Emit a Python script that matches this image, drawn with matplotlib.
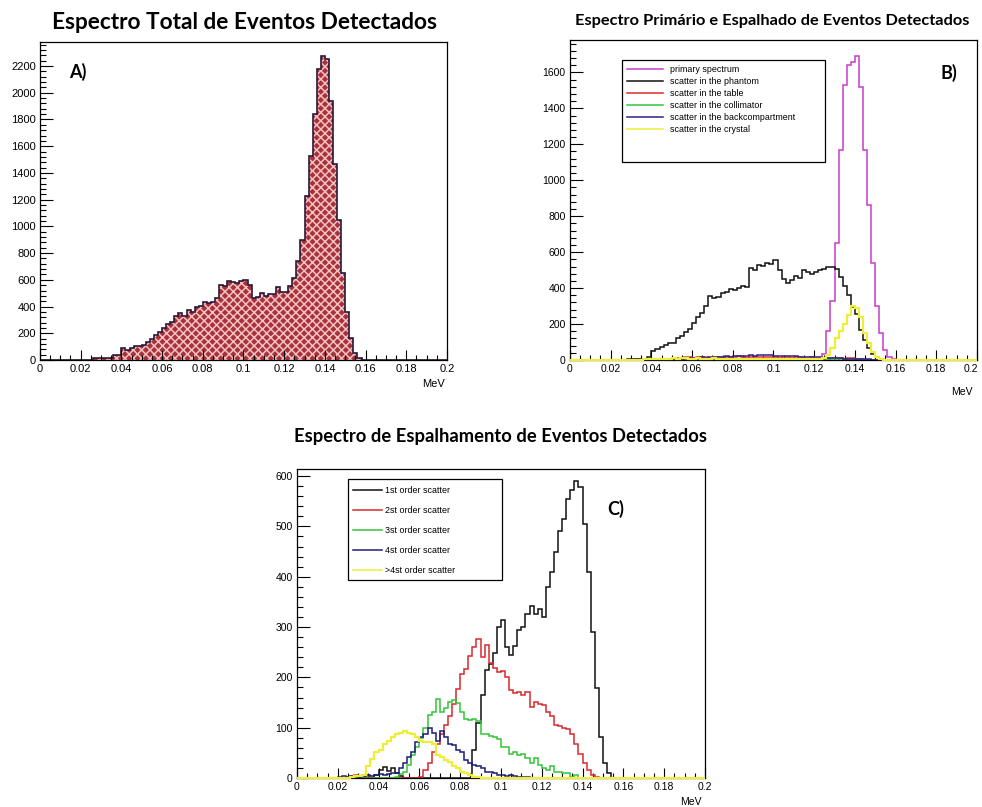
import numpy as np
import matplotlib.pyplot as plt
from matplotlib.patches import Rectangle
from matplotlib.ticker import MultipleLocator
from matplotlib.transforms import ScaledTranslation

plt.rcParams['font.family'] = ['Liberation Sans', 'DejaVu Sans']
plt.rcParams['hatch.linewidth'] = 1.1

# --- data: 100 energy bins of 2 keV between 0 and 0.2 MeV ---
N_BINS = 100
E_RANGE = (0.0, 0.2)


def pad(start, vals):
    return np.array([0] * start + list(vals) + [0] * (N_BINS - start - len(vals)), dtype=float)


# A) total spectrum (first non-empty bin = 13)
total_counts = pad(13, [12, 14, 14, 13, 15, 40, 40, 88, 75, 92, 105, 105, 110, 137, 155, 187, 207,
                        242, 270, 282, 332, 350, 330, 375, 360, 395, 405, 437, 425, 435, 467, 560,
                        555, 592, 587, 575, 592, 600, 560, 467, 475, 505, 482, 492, 492, 545, 510,
                        510, 555, 617, 740, 900, 1230, 1525, 1840, 2180, 2275, 2250, 1940, 1465,
                        1050, 650, 362, 162, 50, 12])

# B) primary and scattered components
primary = pad(60, [3, 8, 35, 160, 330, 650, 1170, 1530, 1640, 1660, 1690, 1520, 1170, 860, 540,
                   300, 150, 55, 15, 3])
phantom = pad(14, [3, 4, 5, 4, 6, 18, 52, 61, 70, 84, 93, 97, 121, 134, 158, 175, 204, 242, 260,
                   301, 357, 344, 353, 372, 381, 395, 388, 403, 409, 405, 511, 498, 530, 524, 539,
                   535, 557, 502, 450, 427, 446, 465, 455, 498, 487, 480, 490, 498, 507, 520, 517,
                   505, 462, 413, 360, 295, 255, 165, 110, 65, 35, 15, 6, 2])
table = pad(24, [6, 9, 12, 10, 14, 16, 12, 15, 18, 14, 11, 16, 19, 17, 14, 15, 18, 20, 16, 13, 15,
                 19, 17, 14, 16, 18, 15, 13, 17, 15, 12, 14, 16, 13, 11, 14, 12, 10, 13, 11, 9, 12,
                 10, 8, 11, 9, 6, 4, 2])
collimator = pad(20, [1, 2, 2, 3, 2, 3, 3, 4, 3, 4, 5, 4, 5, 4, 5, 5, 4, 5, 6, 5, 4, 5, 6, 5, 4, 5,
                      4, 5, 4, 4, 5, 4, 3, 4, 4, 3, 4, 3, 3, 4, 3, 3, 2, 3, 2, 3, 2, 2, 1, 2, 1, 1, 1])
backcomp = pad(15, [2, 3, 2, 4, 3, 5, 4, 6, 5, 7, 6, 8, 7, 9, 10, 11, 12, 14, 13, 16, 15, 18, 17, 20,
                    19, 22, 21, 24, 23, 26, 25, 28, 27, 26, 28, 25, 24, 22, 23, 20, 21, 18, 19, 17,
                    16, 15, 14, 12, 13, 11, 10, 9, 8, 7, 6, 5, 4, 3, 3, 2, 1])
crystal = pad(18, [3, 4, 5, 6, 7, 8, 7, 9, 8, 10, 9, 8, 7, 9, 8, 7, 8, 9, 7, 6, 8, 7, 6, 7, 6, 5, 7,
                   6, 5, 6, 5, 6, 5, 4, 6, 5, 4, 5, 6, 5, 4, 5, 6, 8, 12, 28, 65, 120, 160, 200,
                   250, 300, 290, 240, 150, 93, 46, 18, 5])

# C) scatter order
order1 = pad(19, [6, 15, 22, 14, 20, 10, 5] + [0] * 16 +
             [0, 55, 110, 165, 215, 226, 248, 300, 314, 261, 245, 263, 295, 300, 326, 342, 326,
              335, 320, 380, 410, 450, 490, 515, 555, 572, 590, 578, 505, 410, 290, 178, 82, 30, 10])
order2 = pad(12, [3, 5, 6, 4, 5, 3] + [0] * 12 +
             [3, 16, 29, 52, 68, 87, 106, 123, 148, 177, 206, 216, 242, 261, 277, 240, 265, 228,
              219, 210, 213, 200, 174, 168, 171, 165, 171, 142, 151, 148, 145, 132, 123, 106, 103,
              100, 97, 87, 67, 48, 29, 16, 6, 3])
order3 = pad(24, [3, 8, 12, 25, 45, 62, 80, 100, 125, 132, 158, 132, 139, 152, 155, 150, 132, 118,
                  115, 117, 114, 88, 87, 84, 81, 77, 61, 61, 48, 51, 45, 48, 39, 29, 39, 26, 19, 16,
                  23, 12, 12, 10, 10, 3, 6])
order4 = pad(10, [2, 4, 3, 5, 4, 3, 5, 6, 5, 6, 8, 6, 8, 9,
                  10, 19, 29, 42, 52, 71, 81, 87, 100, 90, 74, 94, 81, 68, 65, 55, 52, 35, 29, 26,
                  23, 19, 12, 11, 10, 6, 7, 4, 6, 4, 3, 3, 2, 1, 1, 1, 1])
order5 = pad(13, [3, 5, 4, 6, 23, 38, 52, 55, 68, 74, 81, 87, 90, 94, 90, 87, 81, 74, 71, 71, 68,
                  45, 42, 35, 32, 23, 19, 12, 10, 6, 3, 2])

X_TICKS = [0, 0.02, 0.04, 0.06, 0.08, 0.1, 0.12, 0.14, 0.16, 0.18, 0.2]
X_TICK_LABELS = ['0', '0.02', '0.04', '0.06', '0.08', '0.1', '0.12', '0.14', '0.16', '0.18', '0.2']

B_LABELS = ['primary spectrum', 'scatter in the phantom', 'scatter in the table',
            'scatter in the collimator', 'scatter in the backcompartment', 'scatter in the crystal']
B_COLORS = ['#c83cc8', '#111111', '#e0282c', '#33c43a', '#2e2088', '#eded3a']
C_LABELS = ['1st order scatter', '2st order scatter', '3st order scatter',
            '4st order scatter', '>4st order scatter']
C_COLORS = ['#111111', '#d8282c', '#33c43a', '#1c1c7a', '#eded3a']

edges = np.linspace(E_RANGE[0], E_RANGE[1], N_BINS + 1)
TITLE_FONT = ['Lato', 'DejaVu Sans']


def root_axes(ax, ymax, ymajor, tick_fs):
    ax.set_xlim(*E_RANGE)
    ax.set_ylim(0, ymax)
    ax.set_xticks(X_TICKS)
    ax.set_xticklabels(X_TICK_LABELS)
    ax.xaxis.set_minor_locator(MultipleLocator(0.005))
    ax.yaxis.set_major_locator(MultipleLocator(ymajor))
    ax.yaxis.set_minor_locator(MultipleLocator(ymajor / 5))
    ax.tick_params(axis='both', which='both', direction='in', top=False, right=False,
                   labelsize=tick_fs, width=0.8, color='black')
    ax.tick_params(axis='y', which='major', length=9, pad=3)
    ax.tick_params(axis='y', which='minor', length=4.5)
    ax.tick_params(axis='x', which='major', length=7, pad=3)
    ax.tick_params(axis='x', which='minor', length=3.5)
    for s in ax.spines.values():
        s.set_linewidth(0.9)
    ax.text(0.995, -0.075, 'MeV', transform=ax.transAxes, ha='right', va='center',
            fontsize=tick_fs)


def box_legend(ax, box, labels, colors, first_y, step, line_x, text_x, fs):
    x0, y0, x1, y1 = box
    ax.add_patch(Rectangle((x0, y0), x1 - x0, y1 - y0, transform=ax.transAxes,
                           facecolor='white', edgecolor='black', lw=0.9, zorder=5))
    for i, (lab, col) in enumerate(zip(labels, colors)):
        y = first_y - i * step
        ax.plot(line_x, [y, y], transform=ax.transAxes, color=col, lw=1.1, zorder=6)
        ax.text(text_x, y, lab, transform=ax.transAxes, va='center', ha='left',
                fontsize=fs, zorder=6)


def draw_series(ax, series, colors):
    for i, (vals, col) in enumerate(zip(series, colors)):
        last = i == len(series) - 1
        # ROOT draws the last (yellow) histogram over the zero line of the frame
        ax.stairs(vals, edges, color=col, lw=1.6 if last else 1.1,
                  zorder=3 if last else 2, clip_on=not last)


fig = plt.figure(figsize=(9.82, 8.07), dpi=100)

# --- PANEL A ---
axA = fig.add_axes([0.0407, 0.5539, 0.4145, 0.3941])
axA.stairs(total_counts, edges, fill=True, facecolor='#a8323a', edgecolor='#f4c0c0',
           hatch='xxxx', linewidth=0)
axA.stairs(total_counts, edges, color='#2a1838', lw=1.2)
root_axes(axA, 2380, 200, 8)
axA.text(0.093, 0.905, 'A)', transform=axA.transAxes, fontsize=13, fontweight='bold',
         family=TITLE_FONT, ha='center', va='center')

# --- PANEL B ---
axB = fig.add_axes([0.5804, 0.5539, 0.4145, 0.3965])
draw_series(axB, [primary, phantom, table, collimator, backcomp, crystal], B_COLORS)
root_axes(axB, 1780, 200, 7.5)
axB.texts[-1].set_position((0.99, -0.10))
box_legend(axB, (0.1278, 0.6188, 0.6265, 0.9375), B_LABELS, B_COLORS,
           first_y=0.909, step=0.0375, line_x=[0.139, 0.229], text_x=0.2457, fs=6.4)
axB.text(0.93, 0.896, 'B)', transform=axB.transAxes, fontsize=13, fontweight='bold',
         family=TITLE_FONT, ha='center', va='center')
last_lab = axB.get_xticklabels()[-1]
last_lab.set_transform(last_lab.get_transform() + ScaledTranslation(-0.06, 0, fig.dpi_scale_trans))

# --- PANEL C ---
axC = fig.add_axes([0.3024, 0.0359, 0.4155, 0.3829])
draw_series(axC, [order1, order2, order3, order4, order5], C_COLORS)
root_axes(axC, 614, 100, 7.5)
axC.texts[-1].set_position((0.993, -0.078))
box_legend(axC, (0.125, 0.6408, 0.5025, 0.9676), C_LABELS, C_COLORS,
           first_y=0.932, step=0.0647, line_x=[0.137, 0.208], text_x=0.216, fs=6.4)
axC.text(0.78, 0.87, 'C)', transform=axC.transAxes, fontsize=13, fontweight='bold',
         family=TITLE_FONT, ha='center', va='center')

# --- titles ---
fig.text(0.2485, 0.9727, 'Espectro Total de Eventos Detectados', ha='center', va='center',
         fontsize=16.3, fontweight='bold', family=TITLE_FONT)
fig.text(0.786, 0.974, 'Espectro Primário e Espalhado de Eventos Detectados', ha='center',
         va='center', fontsize=11.8, fontweight='bold', family=TITLE_FONT)
fig.text(0.510, 0.4585, 'Espectro de Espalhamento de Eventos Detectados', ha='center',
         va='center', fontsize=13.2, fontweight='bold', family=TITLE_FONT)

fig.savefig('out.png', dpi=100)
